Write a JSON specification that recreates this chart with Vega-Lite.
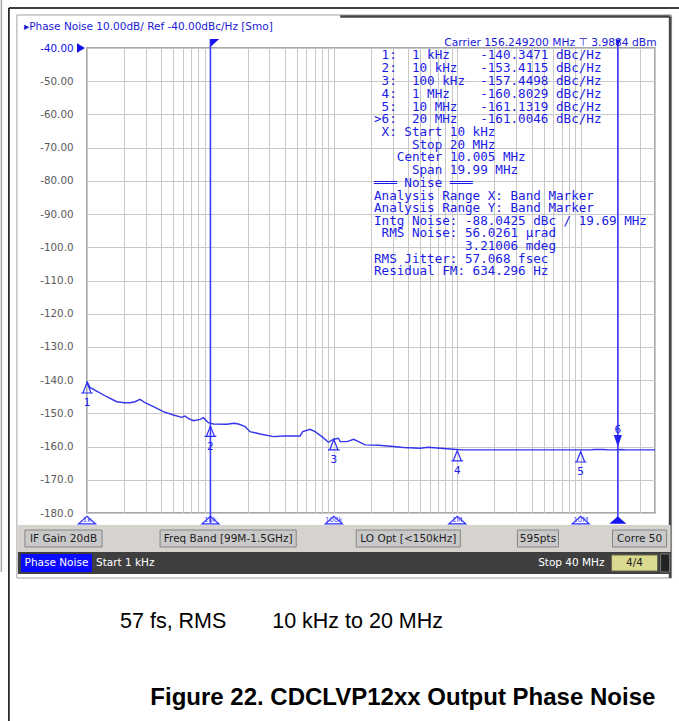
{
"$schema":"https://vega.github.io/schema/vega-lite/v6.json",
"width":568,"height":465,
"autosize":{"type":"none"},
"padding":{"left":87,"top":48,"right":24,"bottom":208},
"background":"#ffffff",
"config":{"view":{"stroke":"#8a8a8a","strokeWidth":1.5},"font":"DejaVu Sans"},
"datasets":{
"trace":[{"f":1000,"v":-140.4},{"f":1058,"v":-142.2},{"f":1198,"v":-143.3},{"f":1445,"v":-145.0},{"f":1741,"v":-146.5},{"f":2000,"v":-146.8},{"f":2232,"v":-146.8},{"f":2451,"v":-146.5},{"f":2690,"v":-145.8},{"f":2952,"v":-146.8},{"f":3451,"v":-148.0},{"f":4157,"v":-149.5},{"f":5013,"v":-150.5},{"f":5855,"v":-151.2},{"f":6226,"v":-150.8},{"f":6600,"v":-151.5},{"f":7287,"v":-152.2},{"f":8246,"v":-151.8},{"f":8762,"v":-151.3},{"f":9621,"v":-152.8},{"f":10580,"v":-153.2},{"f":13550,"v":-153.3},{"f":15500,"v":-153.0},{"f":16890,"v":-153.2},{"f":19120,"v":-154.0},{"f":20910,"v":-155.5},{"f":25300,"v":-156.2},{"f":32400,"v":-157.0},{"f":39090,"v":-156.8},{"f":53300,"v":-156.8},{"f":56000,"v":-155.5},{"f":64300,"v":-154.8},{"f":70500,"v":-155.5},{"f":80000,"v":-157.0},{"f":90400,"v":-158.7},{"f":99700,"v":-157.8},{"f":108800,"v":-157.5},{"f":112500,"v":-158.5},{"f":127900,"v":-158.5},{"f":144600,"v":-157.8},{"f":158600,"v":-158.5},{"f":179400,"v":-159.5},{"f":230800,"v":-159.6},{"f":304000,"v":-160.0},{"f":366000,"v":-160.3},{"f":501000,"v":-160.5},{"f":580000,"v":-160.2},{"f":729000,"v":-160.5},{"f":931000,"v":-160.8},{"f":1093000,"v":-161.0},{"f":11980000,"v":-161.0},{"f":12800000,"v":-160.9},{"f":15200000,"v":-160.9},{"f":16500000,"v":-161.0},{"f":19000000,"v":-161.0},{"f":21100000,"v":-160.9},{"f":23300000,"v":-161.0},{"f":40000000,"v":-161.0}],
"markers":[{"n":"1","f":1000,"v":-140.35},{"n":"2","f":10000,"v":-153.41},{"n":"3","f":100000,"v":-157.45},{"n":"4","f":1000000,"v":-160.8},{"n":"5","f":10000000,"v":-161.13}],
"info":[
{"t":"1:\u00a0\u00a01\u00a0kHz\u00a0\u00a0\u00a0\u00a0-140.3471\u00a0dBc/Hz","f":243800,"v":-42.1},
{"t":"2:\u00a0\u00a010\u00a0kHz\u00a0\u00a0\u00a0-153.4115\u00a0dBc/Hz","f":243800,"v":-46.1},
{"t":"3:\u00a0\u00a0100\u00a0kHz\u00a0\u00a0-157.4498\u00a0dBc/Hz","f":243800,"v":-49.9},
{"t":"4:\u00a0\u00a01\u00a0MHz\u00a0\u00a0\u00a0\u00a0-160.8029\u00a0dBc/Hz","f":243800,"v":-53.85},
{"t":"5:\u00a0\u00a010\u00a0MHz\u00a0\u00a0\u00a0-161.1319\u00a0dBc/Hz","f":243800,"v":-57.7},
{"t":">6:\u00a0\u00a020\u00a0MHz\u00a0\u00a0\u00a0-161.0046\u00a0dBc/Hz","f":211500,"v":-61.5},
{"t":"X:\u00a0Start\u00a010\u00a0kHz","f":243800,"v":-65.3},
{"t":"Stop\u00a020\u00a0MHz","f":429100,"v":-69.2},
{"t":"Center\u00a010.005\u00a0MHz","f":323700,"v":-72.9},
{"t":"Span\u00a019.99\u00a0MHz","f":429100,"v":-76.7},
{"t":"\u2550\u2550\u2550\u00a0Noise\u00a0\u2550\u2550\u2550","f":211500,"v":-80.7},
{"t":"Analysis\u00a0Range\u00a0X:\u00a0Band\u00a0Marker","f":211500,"v":-84.5},
{"t":"Analysis\u00a0Range\u00a0Y:\u00a0Band\u00a0Marker","f":211500,"v":-88.3},
{"t":"Intg\u00a0Noise:\u00a0-88.0425\u00a0dBc\u00a0/\u00a019.69\u00a0MHz","f":211500,"v":-92.1},
{"t":"RMS\u00a0Noise:\u00a056.0261\u00a0\u00b5rad","f":243800,"v":-95.8},
{"t":"3.21006\u00a0mdeg","f":1155300,"v":-99.6},
{"t":"RMS\u00a0Jitter:\u00a057.068\u00a0fsec","f":211500,"v":-103.5},
{"t":"Residual\u00a0FM:\u00a0634.296\u00a0Hz","f":211500,"v":-107.1}
]
},
"encoding":{
"x":{"field":"f","type":"quantitative","scale":{"type":"log","domain":[1000,40000000],"nice":false},
"axis":{"values":[1000,2000,3000,4000,5000,6000,7000,8000,9000,10000,20000,30000,40000,50000,60000,70000,80000,90000,100000,200000,300000,400000,500000,600000,700000,800000,900000,1000000,2000000,3000000,4000000,5000000,6000000,7000000,8000000,9000000,10000000,20000000,30000000,40000000],"labels":false,"ticks":false,"domain":false,"grid":true,"gridColor":"#c8c8c8","gridWidth":1,"title":null}},
"y":{"field":"v","type":"quantitative","scale":{"domain":[-180,-40],"nice":false,"zero":false},
"axis":{"values":[-180,-170,-160,-150,-140,-130,-120,-110,-100,-90,-80,-70,-60,-50,-40],"labelExpr":"datum.value >= -90 ? '-' + format(abs(datum.value), '.2f') : '-' + format(abs(datum.value), '.1f')","labelColor":{"condition":{"test":"datum.value == -40","value":"#1010e8"},"value":"#5a5a5a"},"labelFont":"DejaVu Sans","labelFontSize":10.3,"labelPadding":14,"ticks":false,"domain":false,"grid":true,"gridColor":"#c8c8c8","gridWidth":1,"title":null}}
},
"layer":[
{"data":{"values":[{"f":233,"f2":63280000,"v":-27.96,"v2":-27.96},{"f":233,"f2":233,"v":-27.96,"v2":-242.63}]},"mark":{"type":"rule","color":"#000000","strokeWidth":1.5,"clip":false},"encoding":{"x2":{"field":"f2"},"y2":{"field":"v2"}}},
{"data":{"values":[{"f":202.5,"v":-25.55,"v2":-197.77}]},"mark":{"type":"rule","color":"#a8a8a8","strokeWidth":1.5,"clip":false},"encoding":{"y2":{"field":"v2"}}},
{"data":{"values":[{"f":270.5,"f2":54490000,"v":-30.06,"v2":-199.57}]},"mark":{"type":"rect","filled":false,"color":"#a0a0a0","strokeWidth":1,"clip":false},"encoding":{"x2":{"field":"f2"},"y2":{"field":"v2"}}},
{"data":{"values":[{"f":112700,"f2":52990000,"v":-30.5,"v2":-30.5},{"f":52990000,"f2":52990000,"v":-30.5,"v2":-199.57}]},"mark":{"type":"rule","color":"#454545","strokeWidth":2.5,"clip":false},"encoding":{"x2":{"field":"f2"},"y2":{"field":"v2"}}},
{"data":{"values":[{"f":275.7,"f2":53500000,"v":-183.61,"v2":-191.74}]},"mark":{"type":"rect","color":"#d6d3ce","clip":false},"encoding":{"x2":{"field":"f2"},"y2":{"field":"v2"}}},
{"data":{"values":[{"f":275.7,"f2":53500000,"v":-191.74,"v2":-198.37}]},"mark":{"type":"rect","color":"#3f3f3f","clip":false},"encoding":{"x2":{"field":"f2"},"y2":{"field":"v2"}}},
{"data":{"values":[{"f":314,"f2":1323,"v":-185.12,"v2":-190.24},{"f":3909,"f2":49560,"v":-185.12,"v2":-190.24},{"f":151900,"f2":1059500,"v":-185.12,"v2":-190.24},{"f":3072000,"f2":6607000,"v":-185.12,"v2":-190.24},{"f":18110000,"f2":49650000,"v":-185.12,"v2":-190.24}]},"mark":{"type":"rect","fill":"#c9c9c9","stroke":"#858585","strokeWidth":1,"clip":false},"encoding":{"x2":{"field":"f2"},"y2":{"field":"v2"}}},
{"data":{"values":[{"t":"IF Gain 20dB","f":645,"v":-187.68},{"t":"Freq Band [99M-1.5GHz]","f":13920,"v":-187.68},{"t":"LO Opt [<150kHz]","f":401300,"v":-187.68},{"t":"595pts","f":4505000,"v":-187.68},{"t":"Corre 50","f":30000000,"v":-187.68}]},"mark":{"type":"text","font":"DejaVu Sans","fontSize":10.5,"color":"#1e1e1e","align":"center","baseline":"middle","clip":false},"encoding":{"text":{"field":"t"}}},
{"data":{"values":[{"f":291.5,"f2":1098,"v":-192.35,"v2":-197.77}]},"mark":{"type":"rect","color":"#0a0aff","clip":false},"encoding":{"x2":{"field":"f2"},"y2":{"field":"v2"}}},
{"data":{"values":[{"f":17780000,"f2":41980000,"v":-192.65,"v2":-197.47}]},"mark":{"type":"rect","fill":"#d9d98f","stroke":"#6a6a50","strokeWidth":1,"clip":false},"encoding":{"x2":{"field":"f2"},"y2":{"field":"v2"}}},
{"data":{"values":[{"f":44390000,"f2":52510000,"v":-192.35,"v2":-197.77}]},"mark":{"type":"rect","fill":"#222222","stroke":"#777777","strokeWidth":1,"clip":false},"encoding":{"x2":{"field":"f2"},"y2":{"field":"v2"}}},
{"data":{"values":[{"t":"Phase Noise","f":565.6,"v":-195.06}]},"mark":{"type":"text","font":"DejaVu Sans","fontSize":10.5,"color":"#ffffff","align":"center","baseline":"middle","clip":false},"encoding":{"text":{"field":"t"}}},
{"data":{"values":[{"t":"Start 1 kHz","f":1183,"v":-195.06}]},"mark":{"type":"text","font":"DejaVu Sans","fontSize":10.5,"color":"#ffffff","align":"left","baseline":"middle","clip":false},"encoding":{"text":{"field":"t"}}},
{"data":{"values":[{"t":"Stop 40 MHz","f":15600000,"v":-195.06}]},"mark":{"type":"text","font":"DejaVu Sans","fontSize":10.5,"color":"#ffffff","align":"right","baseline":"middle","clip":false},"encoding":{"text":{"field":"t"}}},
{"data":{"values":[{"t":"4/4","f":27320000,"v":-195.06}]},"mark":{"type":"text","font":"DejaVu Sans","fontSize":10.5,"color":"#202020","align":"center","baseline":"middle","clip":false},"encoding":{"text":{"field":"t"}}},
{"data":{"name":"trace"},"mark":{"type":"line","color":"#3535ee","strokeWidth":1.4,"clip":false}},
{"data":{"values":[{"f":10000,"v":-37.3,"v2":-183.0},{"f":20000000,"v":-37.6,"v2":-183.0}]},"mark":{"type":"rule","color":"#3d3dff","strokeWidth":1.6,"clip":false},"encoding":{"y2":{"field":"v2"}}},
{"data":{"values":[{"f":10000,"v":-38.49}]},"mark":{"type":"point","shape":"M0,-1L2.2,-1L0,1Z","size":64,"filled":true,"color":"#1515f0","opacity":1,"clip":false}},
{"data":{"values":[{"f":20000000,"v":-38.49}]},"mark":{"type":"point","shape":"M-0.7,-1L0.7,-1L0,1Z","size":49,"filled":true,"color":"#1515f0","opacity":1,"clip":false}},
{"data":{"values":[{"t":"1k","f":1000,"v":-182.11},{"t":"10k","f":10000,"v":-182.11},{"t":"100k","f":100000,"v":-182.11},{"t":"1M","f":1000000,"v":-182.11},{"t":"10M","f":10000000,"v":-182.11}]},"mark":{"type":"point","shape":"M-1,0.45L0,-0.45L1,0.45Z","size":289,"filled":false,"color":"#2a2aff","strokeWidth":1.2,"opacity":1,"clip":false}},
{"data":{"values":[{"t":"1k","f":1000,"v":-182.11},{"t":"10k","f":10000,"v":-182.11},{"t":"100k","f":100000,"v":-182.11},{"t":"1M","f":1000000,"v":-182.11},{"t":"10M","f":10000000,"v":-182.11}]},"mark":{"type":"text","font":"DejaVu Sans","fontSize":7,"color":"#4a4aff","align":"center","baseline":"middle","clip":false},"encoding":{"text":{"field":"t"}}},
{"data":{"values":[{"f":20000000,"v":-182.11}]},"mark":{"type":"point","shape":"M-1,0.45L0,-0.45L1,0.45Z","size":289,"filled":true,"color":"#1515f0","opacity":1,"clip":false}},
{"data":{"name":"markers"},"mark":{"type":"point","shape":"M-0.45,1.3L0,0.15L0.45,1.3ZM-0.65,1.3L0.65,1.3","size":324,"filled":false,"color":"#2a2aff","strokeWidth":1.2,"opacity":1,"clip":false}},
{"data":{"name":"markers"},"mark":{"type":"text","font":"DejaVu Sans","fontSize":10.5,"color":"#2020f0","align":"center","baseline":"middle","dy":22,"clip":false},"encoding":{"text":{"field":"n"}}},
{"data":{"values":[{"n":"6","f":20000000,"v":-161.0}]},"mark":{"type":"point","shape":"M-0.45,-1.65L0.45,-1.65L0,-0.35Z","size":324,"filled":true,"color":"#2020f0","opacity":1,"clip":false}},
{"data":{"values":[{"n":"6","f":20000000,"v":-161.0}]},"mark":{"type":"text","font":"DejaVu Sans","fontSize":10.5,"color":"#2020f0","align":"center","baseline":"middle","dy":-20,"clip":false},"encoding":{"text":{"field":"n"}}},
{"data":{"values":[{"f":894,"v":-40}]},"mark":{"type":"point","shape":"M-1,-1.2L1,0L-1,1.2Z","size":64,"filled":true,"color":"#1010e8","opacity":1,"clip":false}},
{"data":{"name":"info"},"mark":{"type":"text","font":"DejaVu Sans Mono","fontSize":12.6,"color":"#1a1ae6","align":"left","baseline":"middle","clip":false},"encoding":{"text":{"field":"t"}}},
{"data":{"values":[{"t":"\u25b8Phase Noise 10.00dB/ Ref -40.00dBc/Hz [Smo]","f":308.3,"v":-33.68}]},"mark":{"type":"text","font":"DejaVu Sans","fontSize":10.5,"color":"#1a1ad8","align":"left","baseline":"middle","clip":false},"encoding":{"text":{"field":"t"}}},
{"data":{"values":[{"t":"Carrier 156.249200 MHz \u22a4 3.9884 dBm","f":41190000,"v":-38.49}]},"mark":{"type":"text","font":"DejaVu Sans","fontSize":10.7,"color":"#1a1ad8","align":"right","baseline":"middle","clip":false},"encoding":{"text":{"field":"t"}}},
{"data":{"values":[{"t":"57 fs, RMS","f":1852,"v":-212.82},{"t":"10 kHz to 20 MHz","f":31650,"v":-212.82}]},"mark":{"type":"text","font":"Liberation Sans","fontSize":21.5,"color":"#000000","align":"left","baseline":"middle","clip":false},"encoding":{"text":{"field":"t"}}},
{"data":{"values":[{"t":"Figure 22. CDCLVP12xx Output Phase Noise","f":362200,"v":-235.7}]},"mark":{"type":"text","font":"Liberation Sans","fontSize":24,"fontWeight":"bold","color":"#000000","align":"center","baseline":"middle","clip":false},"encoding":{"text":{"field":"t"}}}
]
}
